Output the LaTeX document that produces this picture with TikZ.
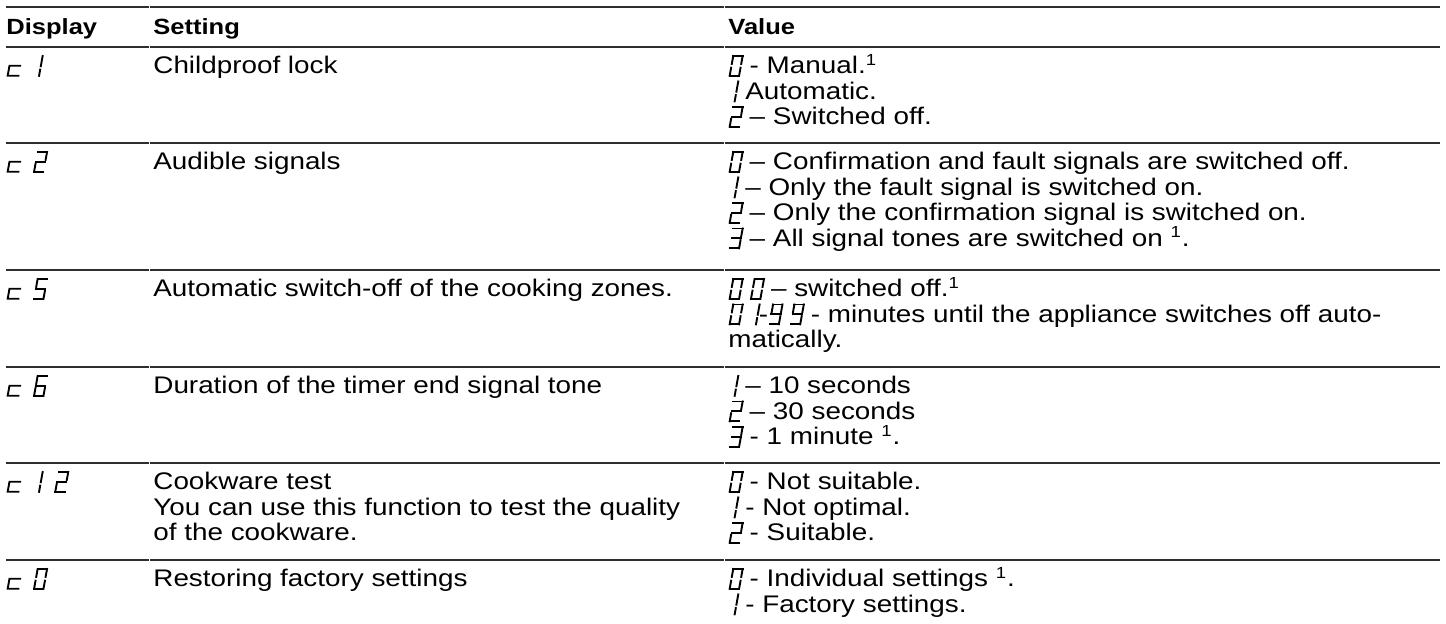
\documentclass[tikz,border=0pt]{standalone}
\usepackage{fontspec}
\setmainfont{Liberation Sans}[FakeStretch=1.16]
\usetikzlibrary{positioning}

% seven segment glyphs of the cooktop display
\newcommand{\lcdglyph}[2]{\tikz[x=1pt,y=1pt,baseline=0pt]{\path[use as bounding box] (0,0) rectangle (#1,8);
  \begin{scope}[xslant=0.18,line width=0.95pt,line cap=rect]#2\end{scope}}}
\newcommand{\lcdA}{\draw (0.8,9) -- (5.5,9);}
\newcommand{\lcdB}{\draw (5.5,9) -- (5.5,5.05);}
\newcommand{\lcdC}{\draw (5.5,3.15) -- (5.5,-0.9);}
\newcommand{\lcdD}{\draw (0.8,-0.9) -- (5.5,-0.9);}
\newcommand{\lcdE}{\draw (0.8,3.15) -- (0.8,-0.9);}
\newcommand{\lcdF}{\draw (0.8,9) -- (0.8,5.05);}
\newcommand{\lcdG}{\draw (0.8,4.1) -- (5.5,4.1);}
\newcommand{\lcd}[1]{\ifcase#1
  \lcdglyph{6.8}{\lcdA\lcdB\lcdC\lcdD\lcdE\lcdF}\or
  \lcdglyph{4.6}{\draw (3.3,9) -- (3.3,3.9); \draw (3.3,2.2) -- (3.3,-0.9);}\or
  \lcdglyph{6.8}{\lcdA\lcdB\lcdG\lcdE\lcdD}\or
  \lcdglyph{6.8}{\lcdA\lcdB\lcdG\lcdC\lcdD}\or\or
  \lcdglyph{6.8}{\lcdA\lcdF\lcdG\lcdC\lcdD}\or
  \lcdglyph{6.8}{\lcdA\lcdF\lcdG\lcdE\lcdD\lcdC}\or\or\or
  \lcdglyph{6.8}{\lcdA\lcdB\lcdF\lcdG\lcdC\lcdD}\fi}
\newcommand{\lcdc}{\lcdglyph{7.2}{\draw (6.2,4.1) -- (0.8,4.1) -- (0.8,-0.9) -- (6.2,-0.9);}}
\newcommand{\lcdsp}{\hspace{6pt}}
\newcommand{\fn}{\textsuperscript{1}}

\begin{document}
\begin{tikzpicture}[x=0.5pt,y=-0.5pt,
    rule/.style={line width=0.9pt,draw=black!82},
    head/.style={anchor=base west,inner sep=0pt,font=\fontsize{11}{13}\selectfont\bfseries},
    cell/.style={anchor=base west,inner sep=0pt,font=\fontsize{12}{14}\selectfont}]
\useasboundingbox (0,0) rectangle (1446,624);

\foreach \y in {7,47,143,270,367,463,560}
  \draw[rule] (6,\y) -- (148.5,\y) (150,\y) -- (723.5,\y) (725,\y) -- (1440,\y);

\node[head] (hdisp) at (6,35) {Display};
\node[head] (hset) at (153,35) {Setting};
\node[head] (hval) at (728,35) {Value};

\node[cell] (disp1) at (6,74) {\lcdc\lcdsp\lcd1};
\node[cell] (set1) at (153,74) {Childproof lock};
\node[cell] (val1a) at (728,74) {\lcd0 - Manual.\fn};
\node[cell] (val1b) at (728,99.5) {\lcd1 Automatic.};
\node[cell] (val1c) at (728,125) {\lcd2 – Switched off.};

\node[cell] (disp2) at (6,170) {\lcdc\lcdsp\lcd2};
\node[cell] (set2) at (153,170) {Audible signals};
\node[cell] (val2a) at (728,170) {\lcd0 – Confirmation and fault signals are switched off.};
\node[cell] (val2b) at (728,195.5) {\lcd1 – Only the fault signal is switched on.};
\node[cell] (val2c) at (728,221) {\lcd2 – Only the confirmation signal is switched on.};
\node[cell] (val2d) at (728,246.5) {\lcd3 – All signal tones are switched on \fn.};

\node[cell] (disp5) at (6,297) {\lcdc\lcdsp\lcd5};
\node[cell] (set5) at (153,297) {Automatic switch-off of the cooking zones.};
\node[cell] (val5a) at (728,297) {\lcd0 \lcd0 – switched off.\fn};
\node[cell] (val5b) at (728,322.5) {\lcd0 \lcd1-\lcd9 \lcd9 - minutes until the appliance switches off auto-};
\node[cell] (val5c) at (728,348) {matically.};

\node[cell] (disp6) at (6,394) {\lcdc\lcdsp\lcd6};
\node[cell] (set6) at (153,394) {Duration of the timer end signal tone};
\node[cell] (val6a) at (728,394) {\lcd1 – 10 seconds};
\node[cell] (val6b) at (728,419.5) {\lcd2 – 30 seconds};
\node[cell] (val6c) at (728,445) {\lcd3 - 1 minute \fn.};

\node[cell] (disp12) at (6,490) {\lcdc\lcdsp\lcd1\lcdsp\lcd2};
\node[cell] (set12a) at (153,490) {Cookware test};
\node[cell] (set12b) at (153,515.5) {You can use this function to test the quality};
\node[cell] (set12c) at (153,541) {of the cookware.};
\node[cell] (val12a) at (728,490) {\lcd0 - Not suitable.};
\node[cell] (val12b) at (728,515.5) {\lcd1 - Not optimal.};
\node[cell] (val12c) at (728,541) {\lcd2 - Suitable.};

\node[cell] (disp0) at (6,587) {\lcdc\lcdsp\lcd0};
\node[cell] (set0) at (153,587) {Restoring factory settings};
\node[cell] (val0a) at (728,587) {\lcd0 - Individual settings \fn.};
\node[cell] (val0b) at (728,612.5) {\lcd1 - Factory settings.};
\end{tikzpicture}
\end{document}
